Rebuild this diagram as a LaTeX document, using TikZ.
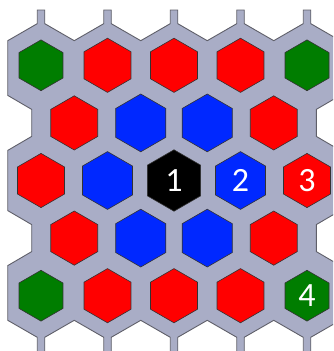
\documentclass[tikz,border=0pt]{standalone}
\usepackage{fontspec}
\setmainfont{Carlito}
\usetikzlibrary{shapes.geometric}
\definecolor{boardgray}{RGB}{169,173,198}
\definecolor{boardedge}{RGB}{95,95,105}
\definecolor{hexgreen}{RGB}{0,125,0}
\definecolor{hexred}{RGB}{255,0,0}
\definecolor{hexblue}{RGB}{0,40,255}
\definecolor{hexedge}{RGB}{50,50,50}
\tikzset{
  hexcell/.style={regular polygon, regular polygon sides=6, regular polygon rotate=30,
    inner sep=0pt, outer sep=0pt, draw=hexedge, line width=0.6pt,
    text=white, font=\fontsize{34}{40}\selectfont},
  ringzero/.style={hexcell, fill=black, minimum size=61.4pt},
  ringone/.style={hexcell, fill=hexblue, minimum size=57.8pt},
  ringtwo/.style={hexcell, fill=hexred, minimum size=54.2pt},
  ringthree/.style={hexcell, fill=hexgreen, minimum size=50.8pt},
  board/.style={fill=boardgray, draw=boardedge, line width=0.9pt, line join=miter}
}
\begin{document}
\begin{tikzpicture}[x=1pt,y=-1pt]
\useasboundingbox (0,0) rectangle (333,351);
\clip (0,0) rectangle (333,351);
% board
\path[board] (7.75,40.7) -- (37.25,23.67) -- (37.25,10) -- (44.75,10) -- (44.75,23.67)
 -- (74.25,40.7) -- (103.75,23.67) -- (103.75,10) -- (111.25,10) -- (111.25,23.67)
 -- (140.75,40.7) -- (170.25,23.67) -- (170.25,10) -- (177.75,10) -- (177.75,23.67)
 -- (207.25,40.7) -- (236.75,23.67) -- (236.75,10) -- (244.25,10) -- (244.25,23.67)
 -- (273.75,40.7) -- (303.25,23.67) -- (303.25,10) -- (310.75,10) -- (310.75,23.67)
 -- (340.25,40.7) -- (340.25,95.4) -- (316.3,109.4) -- (316.3,136.4) -- (340.25,150.4)
 -- (340.25,210.6) -- (316.3,224.6) -- (316.3,251.6) -- (340.25,265.6) -- (340.25,320.3)
 -- (310.75,337.3) -- (310.75,360) -- (303.25,360) -- (303.25,337.3)
 -- (273.75,320.3) -- (244.25,337.3) -- (244.25,360) -- (236.75,360) -- (236.75,337.3)
 -- (207.25,320.3) -- (177.75,337.3) -- (177.75,360) -- (170.25,360) -- (170.25,337.3)
 -- (140.75,320.3) -- (111.25,337.3) -- (111.25,360) -- (103.75,360) -- (103.75,337.3)
 -- (74.25,320.3) -- (44.75,337.3) -- (44.75,360) -- (37.25,360) -- (37.25,337.3)
 -- (7.75,320.3) -- (7.75,265.6) -- (31.7,251.6) -- (31.7,224.6) -- (7.75,210.6)
 -- (7.75,150.4) -- (31.7,136.4) -- (31.7,109.4) -- (7.75,95.4) -- cycle;
% row 0
\node[ringthree] (h00) at (41,65.3) {};
\node[ringtwo]   (h01) at (107.5,65.3) {};
\node[ringtwo]   (h02) at (174,65.3) {};
\node[ringtwo]   (h03) at (240.5,65.3) {};
\node[ringthree] (h04) at (307,65.3) {};
% row 1
\node[ringtwo] (h10) at (74.25,122.9) {};
\node[ringone] (h11) at (140.75,122.9) {};
\node[ringone] (h12) at (207.25,122.9) {};
\node[ringtwo] (h13) at (273.75,122.9) {};
% row 2
\node[ringtwo]  (h20) at (41,180.5) {};
\node[ringone]  (h21) at (107.5,180.5) {};
\node[ringzero] (h22) at (174,180.5) {1};
\node[ringone]  (h23) at (240.5,180.5) {2};
\node[ringtwo]  (h24) at (307,180.5) {3};
% row 3
\node[ringtwo] (h30) at (74.25,238.1) {};
\node[ringone] (h31) at (140.75,238.1) {};
\node[ringone] (h32) at (207.25,238.1) {};
\node[ringtwo] (h33) at (273.75,238.1) {};
% row 4
\node[ringthree] (h40) at (41,295.7) {};
\node[ringtwo]   (h41) at (107.5,295.7) {};
\node[ringtwo]   (h42) at (174,295.7) {};
\node[ringtwo]   (h43) at (240.5,295.7) {};
\node[ringthree] (h44) at (307,295.7) {4};
\end{tikzpicture}
\end{document}
